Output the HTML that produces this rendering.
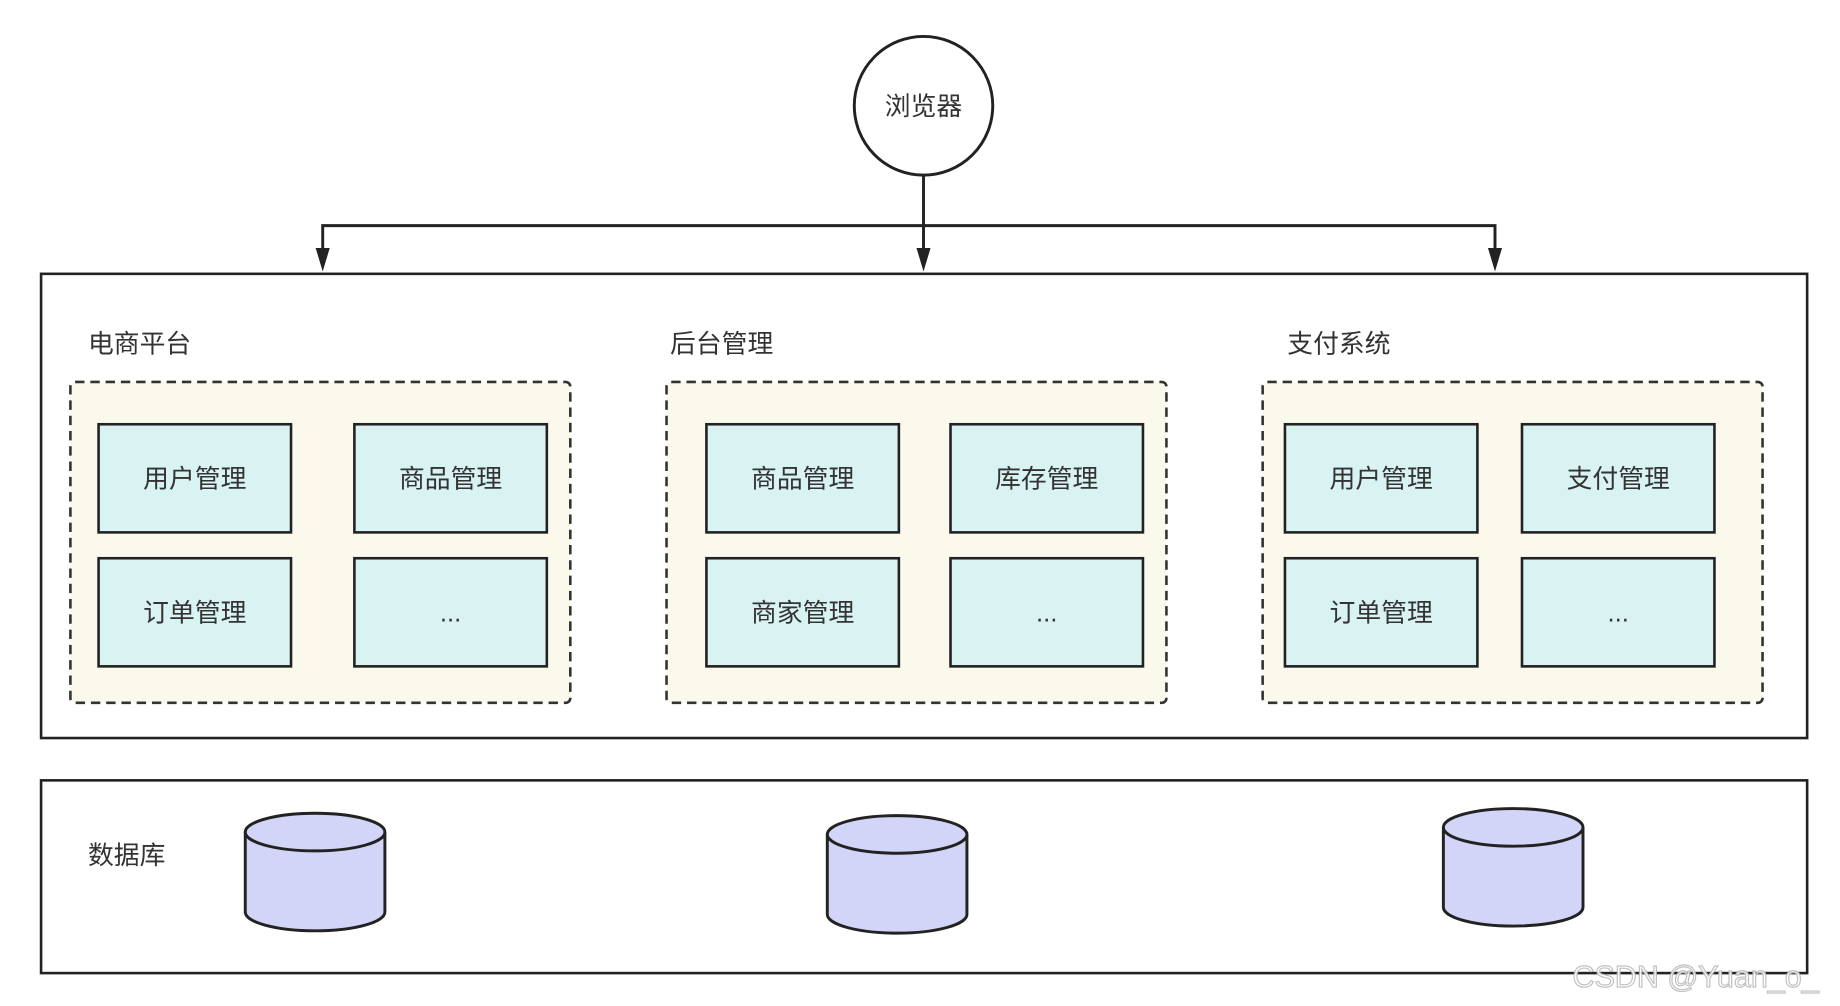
<!DOCTYPE html>
<html><head><meta charset="utf-8"><style>
html,body{margin:0;padding:0;background:#fff;}
svg{display:block;}
text{font-family:"Liberation Sans","Noto Sans CJK SC",sans-serif;fill:#333;}
</style></head><body>
<svg width="1840" height="1006" viewBox="0 0 1568 856" preserveAspectRatio="none" xmlns="http://www.w3.org/2000/svg">
<g stroke="#222" stroke-width="2.5" fill="none">
<circle cx="787" cy="90" r="59" fill="#fff"/>
<line x1="787" y1="150" x2="787" y2="212"/>
<polyline points="275,212 275,192 1274,192 1274,212"/>
</g>
<g fill="#222">
<path d="M269,211 L281,211 L275,231 z"/>
<path d="M781,211 L793,211 L787,231 z"/>
<path d="M1268,211 L1280,211 L1274,231 z"/>
</g>
<text x="787" y="98" font-size="22" text-anchor="middle">浏览器</text>
<rect x="35" y="233" width="1505" height="395" fill="#fff" stroke="#222" stroke-width="2.2"/>
<rect x="35" y="664" width="1505" height="164" fill="#fff" stroke="#222" stroke-width="2.2"/>
<g font-size="22">
<text x="75" y="300">电商平台</text>
<text x="571" y="300">后台管理</text>
<text x="1097" y="300">支付系统</text>
<text x="75" y="735">数据库</text>
</g>
<g fill="#fbf8ec" stroke="#333" stroke-width="2.2" stroke-dasharray="8,5">
<rect x="60" y="325" width="426" height="273" rx="4"/>
<rect x="568" y="325" width="426" height="273" rx="4"/>
<rect x="1076" y="325" width="426" height="273" rx="4"/>
</g>
<g fill="#d9f3f3" stroke="#222" stroke-width="2.2">
<rect x="84" y="361" width="164" height="92"/><rect x="302" y="361" width="164" height="92"/>
<rect x="84" y="475" width="164" height="92"/><rect x="302" y="475" width="164" height="92"/>
<rect x="602" y="361" width="164" height="92"/><rect x="810" y="361" width="164" height="92"/>
<rect x="602" y="475" width="164" height="92"/><rect x="810" y="475" width="164" height="92"/>
<rect x="1095" y="361" width="164" height="92"/><rect x="1297" y="361" width="164" height="92"/>
<rect x="1095" y="475" width="164" height="92"/><rect x="1297" y="475" width="164" height="92"/>
</g>
<g font-size="22" text-anchor="middle">
<text x="166" y="415">用户管理</text><text x="384" y="415">商品管理</text>
<text x="166" y="529">订单管理</text><text x="384" y="529">...</text>
<text x="684" y="415">商品管理</text><text x="892" y="415">库存管理</text>
<text x="684" y="529">商家管理</text><text x="892" y="529">...</text>
<text x="1177" y="415">用户管理</text><text x="1379" y="415">支付管理</text>
<text x="1177" y="529">订单管理</text><text x="1379" y="529">...</text>
</g>
<g fill="#d2d5f7" stroke="#222" stroke-width="2.5">
<path d="M209,708 L209,776 A59.5,16 0 0 0 328,776 L328,708"/>
<ellipse cx="268.5" cy="708" rx="59.5" ry="16"/>
<path d="M705,710 L705,778 A59.5,16 0 0 0 824,778 L824,710"/>
<ellipse cx="764.5" cy="710" rx="59.5" ry="16"/>
<path d="M1230,704 L1230,772 A59.5,16 0 0 0 1349,772 L1349,704"/>
<ellipse cx="1289.5" cy="704" rx="59.5" ry="16"/>
</g>
<text x="1340" y="840" font-size="26" style="fill:#fff;stroke:#bbb;stroke-width:1" opacity="0.9">CSDN @Yuan_o_</text>
</svg>
</body></html>
